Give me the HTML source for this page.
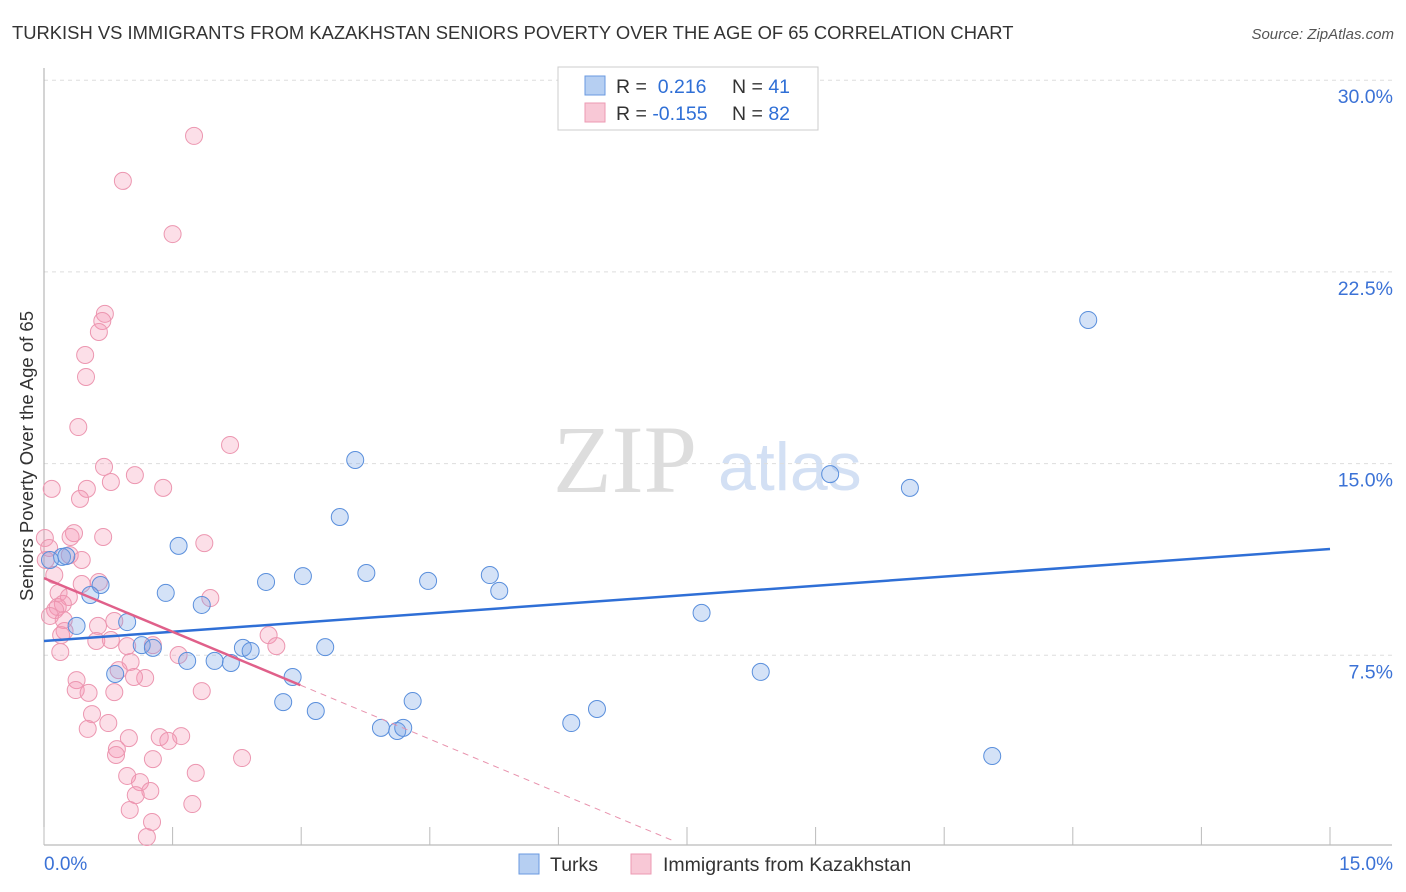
<!DOCTYPE html>
<html><head><meta charset="utf-8"><style>
body{margin:0;background:#fff;font-family:"Liberation Sans",sans-serif}
#c{position:relative;width:1406px;height:892px;overflow:hidden}
</style></head><body><div id="c">
<svg id="s" width="1406" height="892" xmlns="http://www.w3.org/2000/svg" style="position:absolute;left:0;top:0">
<text x="12" y="39" font-size="18.4" fill="#333">TURKISH VS IMMIGRANTS FROM KAZAKHSTAN SENIORS POVERTY OVER THE AGE OF 65 CORRELATION CHART</text>
<text x="1394" y="39" font-size="15" fill="#555" font-style="italic" text-anchor="end">Source: ZipAtlas.com</text>
<text transform="translate(33,456) rotate(-90)" font-size="18.5" fill="#333" text-anchor="middle">Seniors Poverty Over the Age of 65</text>
<g><text x="553" y="492" font-family="Liberation Serif,serif" font-size="96" fill="#ddd">ZIP</text><text x="718" y="490" font-size="68" fill="#d3e0f4">atlas</text></g>
<g id="grid"></g><g id="axes"></g><g id="pts"></g><g id="trend"></g>
<g>
<rect x="558" y="67" width="260" height="63" fill="#fff" stroke="#ccc"/>
<rect x="585" y="76" width="20" height="19" fill="#b6cff2" stroke="#6a9ae0"/>
<rect x="585" y="103" width="20" height="19" fill="#f8c8d6" stroke="#ec9ab3"/>
<text x="616" y="93" font-size="19.5" fill="#333">R = <tspan fill="#2f6fd6">&#160;0.216</tspan><tspan x="732">N = </tspan><tspan fill="#2f6fd6">41</tspan></text>
<text x="616" y="120" font-size="19.5" fill="#333">R = <tspan fill="#2f6fd6">-0.155</tspan><tspan x="732">N = </tspan><tspan fill="#2f6fd6">82</tspan></text>
</g>
<g>
<rect x="519" y="854" width="20" height="20" fill="#b6cff2" stroke="#6a9ae0"/>
<text x="550" y="871" font-size="19.5" fill="#333">Turks</text>
<rect x="631" y="854" width="20" height="20" fill="#f8c8d6" stroke="#ec9ab3"/>
<text x="663" y="871" font-size="19.5" fill="#333">Immigrants from Kazakhstan</text>
</g>
</svg>
<script>
const yTicks=[7.5,15,22.5,30];
const yTickLabels=["7.5%","15.0%","22.5%","30.0%"];
const xTickVals=[0,1.5,3,4.5,6,7.5,9,10.5,12,13.5,15];
const xEndLabels=["0.0%","15.0%"];
const turksX=[12.18,9.17,10.10,3.63,3.45,1.57,0.21,0.26,0.07,0.66,0.54,1.42,1.84,2.59,3.02,3.76,4.48,5.20,5.31,7.67,0.97,0.38,1.14,1.27,0.83,1.67,1.99,2.18,2.32,2.41,3.28,2.90,2.79,3.17,4.30,3.93,4.12,4.19,6.15,6.45,8.36,11.06];
const turksY=[20.62,14.59,14.05,15.14,12.91,11.78,11.35,11.38,11.23,10.25,9.86,9.94,9.47,10.37,10.60,10.72,10.41,10.64,10.02,9.16,8.80,8.65,7.90,7.79,6.77,7.28,7.28,7.20,7.79,7.67,7.82,6.65,5.67,5.32,5.71,4.66,4.54,4.66,4.85,5.40,6.85,3.56];
const kazX=[1.75,0.92,1.50,0.71,0.68,0.64,0.48,0.49,0.40,2.17,0.70,1.06,0.78,0.09,0.50,1.39,0.42,0.35,0.31,0.69,0.01,1.87,0.06,0.30,0.44,0.02,0.12,0.44,0.64,0.17,1.94,0.29,0.16,0.22,0.13,0.07,0.23,0.24,0.63,0.82,0.61,0.20,0.78,0.97,1.27,1.57,2.62,2.71,0.19,1.01,0.87,1.18,1.05,0.38,0.37,0.52,0.82,1.84,0.56,0.75,0.51,1.35,1.60,1.45,0.85,0.84,0.99,1.27,2.31,0.97,1.77,1.12,1.24,1.07,1.00,1.73,1.26,1.20];
const kazY=[27.82,26.06,23.98,20.86,20.58,20.15,19.25,18.39,16.43,15.73,14.87,14.55,14.28,14.01,14.01,14.05,13.62,12.28,12.13,12.13,12.09,11.89,11.70,11.42,11.23,11.23,10.64,10.29,10.37,9.94,9.74,9.78,9.39,9.51,9.27,9.04,8.88,8.45,8.65,8.84,8.06,8.29,8.10,7.86,7.90,7.51,8.29,7.86,7.63,7.24,6.92,6.61,6.65,6.53,6.14,6.03,6.06,6.10,5.20,4.85,4.62,4.30,4.34,4.15,3.83,3.60,4.26,3.44,3.48,2.78,2.90,2.54,2.19,2.03,1.45,1.68,0.98,0.39];
const turksTrend=[8.06,0.24];   // intercept, slope
const kazTrend=[10.52,-1.40];   // intercept, slope
const kazSolidEnd=2.99, kazDashEnd=7.33;

const X=v=>44+v/15*1286, Y=v=>847-v/7.5*191.7;
const NS="http://www.w3.org/2000/svg";
function mk(t,p,a){const e=document.createElementNS(NS,t);for(const k in a)e.setAttribute(k,a[k]);p.appendChild(e);return e;}
const grid=document.getElementById('grid'),axes=document.getElementById('axes'),pts=document.getElementById('pts'),tr=document.getElementById('trend');
yTicks.forEach((v,i)=>{
 const l=mk('line',grid,{x1:44,x2:1392,y1:Y(v),y2:Y(v),stroke:'#ddd','stroke-dasharray':'4,4'});
 
 
 const t=mk('text',axes,{x:1393,y:Y(v)+23,'font-size':19.5,fill:'#3b72d6','text-anchor':'end'});t.textContent=yTickLabels[i];
 
 
});
let a=mk('line',axes,{x1:44,x2:44,y1:68,y2:845,stroke:'#aaa'});


a=mk('line',axes,{x1:44,x2:1392,y1:845,y2:845,stroke:'#aaa'});


xTickVals.forEach(v=>{const l=mk('line',axes,{x1:X(v),x2:X(v),y1:827,y2:845,stroke:'#bbb'});
 
 });
let t=mk('text',axes,{x:44,y:870,'font-size':19,fill:'#3b72d6'});t.textContent=xEndLabels[0];


t=mk('text',axes,{x:1393,y:870,'font-size':19,fill:'#3b72d6','text-anchor':'end'});t.textContent=xEndLabels[1];


kazX.forEach((v,i)=>{const c=mk('circle',pts,{cx:X(v),cy:Y(kazY[i]),r:8.5,fill:'rgba(244,150,180,0.3)',stroke:'#ec96b0','stroke-width':1});
 
 });
turksX.forEach((v,i)=>{const c=mk('circle',pts,{cx:X(v),cy:Y(turksY[i]),r:8.5,fill:'rgba(120,165,230,0.32)',stroke:'#5a8fdc','stroke-width':1});
 
 });
let L=mk('line',tr,{x1:X(0),y1:Y(turksTrend[0]),x2:X(15),y2:Y(turksTrend[0]+15*turksTrend[1]),stroke:'#2f6fd6','stroke-width':2.5});


L=mk('line',tr,{x1:X(0),y1:Y(kazTrend[0]),x2:X(kazSolidEnd),y2:Y(kazTrend[0]+kazSolidEnd*kazTrend[1]),stroke:'#e0608a','stroke-width':2.5});


L=mk('line',tr,{x1:X(kazSolidEnd),y1:Y(kazTrend[0]+kazSolidEnd*kazTrend[1]),x2:X(kazDashEnd),y2:Y(kazTrend[0]+kazDashEnd*kazTrend[1]),stroke:'#e892ad','stroke-width':1,'stroke-dasharray':'6,5'});


</script></div></body></html>
